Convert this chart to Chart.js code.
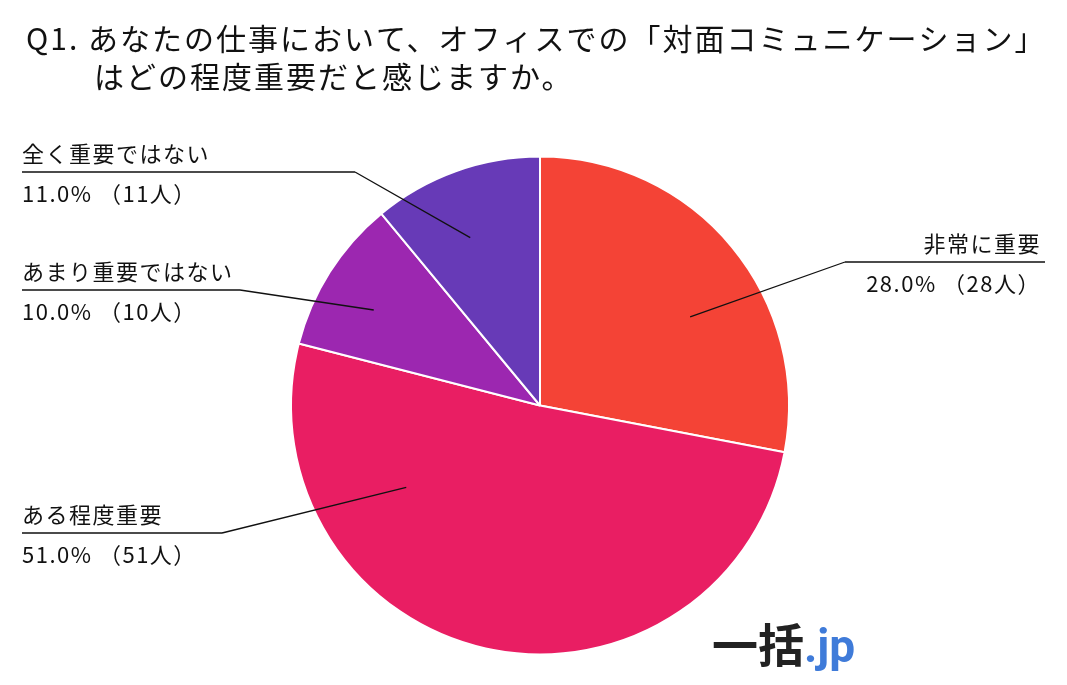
<!DOCTYPE html>
<html>
<head>
<meta charset="utf-8">
<script src="https://cdn.jsdelivr.net/npm/chart.js@4.4.1/dist/chart.umd.min.js"></script>
<style>
  html, body { margin: 0; padding: 0; background: #fff; }
  #wrap { width: 1067px; height: 685px; position: relative; }
</style>
</head>
<body>
<div id="wrap"><canvas id="pie"></canvas></div>
<script>
// データ
const labels = ["非常に重要", "ある程度重要", "あまり重要ではない", "全く重要ではない"];
const percents = [28.0, 51.0, 10.0, 11.0];
const counts = [28, 51, 10, 11];
const colors = ["#F44336", "#E91E63", "#9C27B0", "#673AB7"];

const titleLines = [
  "Q1. あなたの仕事において、オフィスでの「対面コミュニケーション」",
  "はどの程度重要だと感じますか。"
];

const FONT = "'Noto Sans CJK JP', 'Noto Sans', sans-serif";

// ラベル位置 (テキストと引き出し線)  t = スライス内の角度位置, r = 半径比
const labelPos = [
  { side: "right", x1: 845, x2: 1045, y: 262, t: 0.59, r: 0.70 },
  { side: "left",  x1: 22,  x2: 222,  y: 533, t: 0.75, r: 0.63 },
  { side: "left",  x1: 22,  x2: 240,  y: 290, t: 0.43, r: 0.77 },
  { side: "left",  x1: 22,  x2: 355,  y: 172, t: 0.43, r: 0.73 }
];

const decorPlugin = {
  id: "decor",
  afterDraw(chart) {
    const ctx = chart.ctx;
    ctx.save();

    // タイトル
    ctx.fillStyle = "#111";
    ctx.font = "30px " + FONT;
    ctx.letterSpacing = "2px";
    ctx.textBaseline = "alphabetic";
    ctx.textAlign = "left";
    ctx.fillText(titleLines[0], 26, 50);
    ctx.fillText(titleLines[1], 94, 88);

    // ラベル
    const meta = chart.getDatasetMeta(0);
    meta.data.forEach((arc, i) => {
      const p = labelPos[i];
      const ang = arc.startAngle + (arc.endAngle - arc.startAngle) * p.t;
      const ax = arc.x + Math.cos(ang) * arc.outerRadius * p.r;
      const ay = arc.y + Math.sin(ang) * arc.outerRadius * p.r;
      const elbowX = p.side === "right" ? p.x1 : p.x2;

      ctx.strokeStyle = "#111";
      ctx.lineWidth = 1.3;
      ctx.beginPath();
      ctx.moveTo(ax, ay);
      ctx.lineTo(elbowX, p.y);
      ctx.moveTo(p.x1, p.y);
      ctx.lineTo(p.x2, p.y);
      ctx.stroke();

      ctx.fillStyle = "#111";
      ctx.font = "22px " + FONT;
      ctx.letterSpacing = "1.5px";
      const tx = p.side === "right" ? p.x2 - 4 : p.x1;
      ctx.textAlign = p.side === "right" ? "right" : "left";
      ctx.fillText(labels[i], tx, p.y - 10);
      ctx.fillText(percents[i].toFixed(1) + "% （" + counts[i] + "人）", tx, p.y + 30);
    });

    // ロゴ
    ctx.letterSpacing = "0px";
    ctx.textAlign = "left";
    ctx.font = "bold 46px " + FONT;
    ctx.fillStyle = "#222";
    ctx.fillText("一括", 712, 662);
    const w = ctx.measureText("一括").width;
    ctx.font = "bold 46px 'Roboto', sans-serif";
    ctx.fillStyle = "#3F7BD9";
    ctx.fillText(".jp", 712 + w, 662);

    ctx.restore();
  }
};

new Chart(document.getElementById("pie"), {
  type: "pie",
  data: {
    labels: labels,
    datasets: [{
      data: percents,
      backgroundColor: colors,
      borderColor: "#fff",
      borderWidth: 2
    }]
  },
  options: {
    responsive: true,
    maintainAspectRatio: false,
    animation: false,
    layout: { padding: { top: 154, bottom: 28, left: 290, right: 277 } },
    plugins: {
      legend: { display: false },
      tooltip: { enabled: false }
    }
  },
  plugins: [decorPlugin]
});
</script>
</body>
</html>
